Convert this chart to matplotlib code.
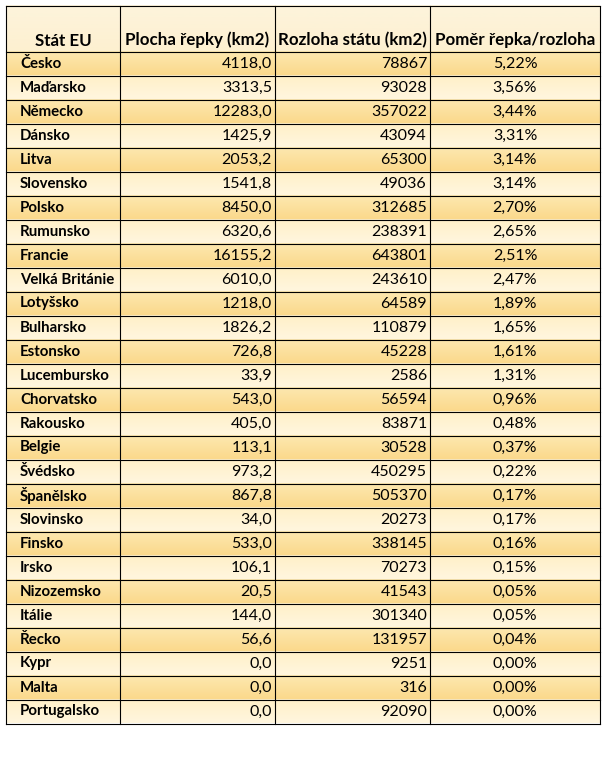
import numpy as np
import matplotlib
matplotlib.use("Agg")
import matplotlib.pyplot as plt

# table data
headers = ["Stát EU", "Plocha řepky (km2)", "Rozloha státu (km2)", "Poměr řepka/rozloha"]
countries = ["Česko", "Maďarsko", "Německo", "Dánsko", "Litva", "Slovensko", "Polsko",
             "Rumunsko", "Francie", "Velká Británie", "Lotyšsko", "Bulharsko", "Estonsko",
             "Lucembursko", "Chorvatsko", "Rakousko", "Belgie", "Švédsko", "Španělsko",
             "Slovinsko", "Finsko", "Irsko", "Nizozemsko", "Itálie", "Řecko", "Kypr",
             "Malta", "Portugalsko"]
rapeseed = [4118.0, 3313.5, 12283.0, 1425.9, 2053.2, 1541.8, 8450.0, 6320.6, 16155.2,
            6010.0, 1218.0, 1826.2, 726.8, 33.9, 543.0, 405.0, 113.1, 973.2, 867.8,
            34.0, 533.0, 106.1, 20.5, 144.0, 56.6, 0.0, 0.0, 0.0]
area = [78867, 93028, 357022, 43094, 65300, 49036, 312685, 238391, 643801, 243610,
        64589, 110879, 45228, 2586, 56594, 83871, 30528, 450295, 505370, 20273,
        338145, 70273, 41543, 301340, 131957, 9251, 316, 92090]
ratio = [5.22, 3.56, 3.44, 3.31, 3.14, 3.14, 2.70, 2.65, 2.51, 2.47, 1.89, 1.65, 1.61,
         1.31, 0.96, 0.48, 0.37, 0.22, 0.17, 0.17, 0.16, 0.15, 0.05, 0.05, 0.04, 0.00,
         0.00, 0.00]

plt.rcParams['font.family'] = ['Lato', 'DejaVu Sans']

W, H = 607, 760
fig = plt.figure(figsize=(W / 100, H / 100), dpi=100)
ax = fig.add_axes([0, 0, 1, 1])
ax.set_xlim(0, W)
ax.set_ylim(H, 0)
ax.axis("off")

col_x = [6, 120, 275, 430, 600]
top = 6
head_bottom = 51.5
row_h = 24
fs = 11.5
fs_head = 12.2


def gradient(c1, c2, x0, x1, y0, y1):
    c1 = np.array(matplotlib.colors.to_rgb(c1))
    c2 = np.array(matplotlib.colors.to_rgb(c2))
    t = np.linspace(0, 1, 32)[:, None]
    img = (c1 * (1 - t) + c2 * t)[:, None, :]
    ax.imshow(img, extent=(x0, x1, y1, y0), aspect="auto", interpolation="bilinear", zorder=0)


# header background
gradient("#fdf4dc", "#fdf0d0", col_x[0], col_x[-1], top, head_bottom)

n = len(countries)
for i in range(n):
    y0 = head_bottom + i * row_h
    if i % 2 == 0:
        gradient("#fde8b0", "#fbd98c", col_x[0], col_x[-1], y0, y0 + row_h)
    else:
        gradient("#fff0c8", "#fff6de", col_x[0], col_x[-1], y0, y0 + row_h)

# grid lines
bottom = head_bottom + n * row_h
for x in col_x:
    ax.plot([x, x], [top, bottom], color="black", lw=0.8, zorder=2)
for y in [top, head_bottom] + [head_bottom + (i + 1) * row_h for i in range(n)]:
    ax.plot([col_x[0], col_x[-1]], [y, y], color="black", lw=0.8, zorder=2)

# header text
for j, h in enumerate(headers):
    ax.text((col_x[j] + col_x[j + 1]) / 2, head_bottom - 3, h, ha="center", va="bottom",
            fontsize=fs_head, fontweight="bold", zorder=3)


def fmt(v, d):
    return f"{v:.{d}f}".replace(".", ",")


for i in range(n):
    yc = head_bottom + i * row_h + row_h / 2
    ax.text(col_x[0] + 14, yc, countries[i], ha="left", va="center", fontsize=10.8,
            fontweight="bold", zorder=3)
    ax.text(col_x[2] - 3, yc, fmt(rapeseed[i], 1), ha="right", va="center", fontsize=fs, zorder=3)
    ax.text(col_x[3] - 3, yc, str(area[i]), ha="right", va="center", fontsize=fs, zorder=3)
    ax.text((col_x[3] + col_x[4]) / 2, yc, fmt(ratio[i], 2) + "%", ha="center", va="center",
            fontsize=fs, zorder=3)

fig.savefig("out.png", dpi=100)
